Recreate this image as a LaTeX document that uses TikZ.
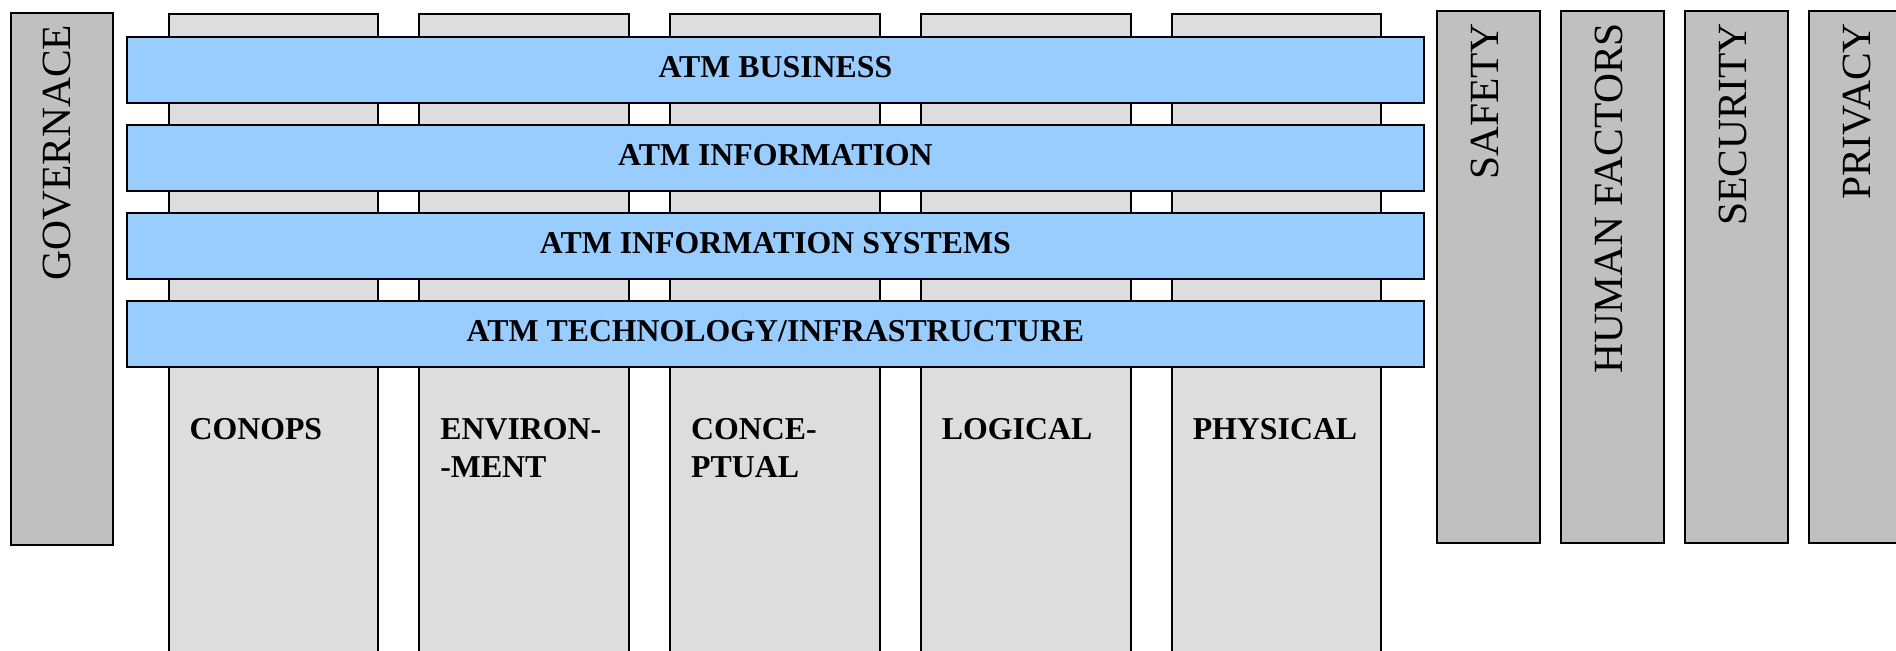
\documentclass[tikz,border=0pt]{standalone}
\usepackage{fontspec}
\setmainfont{Liberation Serif}
\usetikzlibrary{positioning}

\definecolor{bandblue}{HTML}{99CCFF}
\definecolor{viewgray}{HTML}{DDDDDD}
\definecolor{pillargray}{HTML}{C0C0C0}

\begin{document}
\begin{tikzpicture}[x=0.01cm, y=-0.01cm, line width=0.6pt,
view/.style={draw, fill=viewgray, anchor=north west, minimum width=2.095cm, minimum height=6.6cm, inner sep=0},
viewlabel/.style={font=\fontsize{9.05}{10.9}\selectfont\bfseries, align=left, inner sep=0},
band/.style={draw, fill=bandblue, anchor=north west, minimum width=12.96cm, minimum height=0.66cm, inner sep=0,
  text height=0.21cm, text depth=0.07cm, font=\fontsize{9.05}{10.9}\selectfont\bfseries},
pillar/.style={draw, fill=pillargray, anchor=north west, minimum width=1.025cm, minimum height=5.32cm, inner sep=0},
pillartext/.style={rotate=90, anchor=east, inner sep=0, font=\fontsize{11.8}{14}\selectfont}]

\useasboundingbox (0,0) rectangle (1896,650);

% views
\foreach \i/\lbl in {1/CONOPS, 2/{ENVIRON-\\-MENT}, 3/{CONCE-\\PTUAL}, 4/LOGICAL, 5/PHYSICAL}
{
	\node[view] (v\i) at ({167.5+250.8*(\i-1)}, 13) {};
	\node[viewlabel, below right=4.04cm and 0.21cm of v\i.north west] (vl\i) {\lbl};
}

% layers
\foreach \j/\lbl in {1/ATM BUSINESS, 2/ATM INFORMATION, 3/ATM INFORMATION SYSTEMS, 4/{ATM TECHNOLOGY/INFRASTRUCTURE}}
	\node[band] (b\j) at (126, {36+88*(\j-1)}) {\lbl};

% governance
\node[pillar] (gov) at (9.5, 11.7) {};
\node[pillartext] (govt) at ([xshift=-0.05cm, yshift=-0.12cm]gov.north) {GOVERNACE};

% transversal areas
\foreach \k/\lbl in {1/SAFETY, 2/HUMAN FACTORS, 3/SECURITY, 4/PRIVACY}
{
	\node[pillar] (p\k) at ({1436+124*(\k-1)}, 10) {};
	\node[pillartext] (pt\k) at ([xshift=-0.03cm, yshift=-0.12cm]p\k.north) {\lbl};
}
\end{tikzpicture}
\end{document}
